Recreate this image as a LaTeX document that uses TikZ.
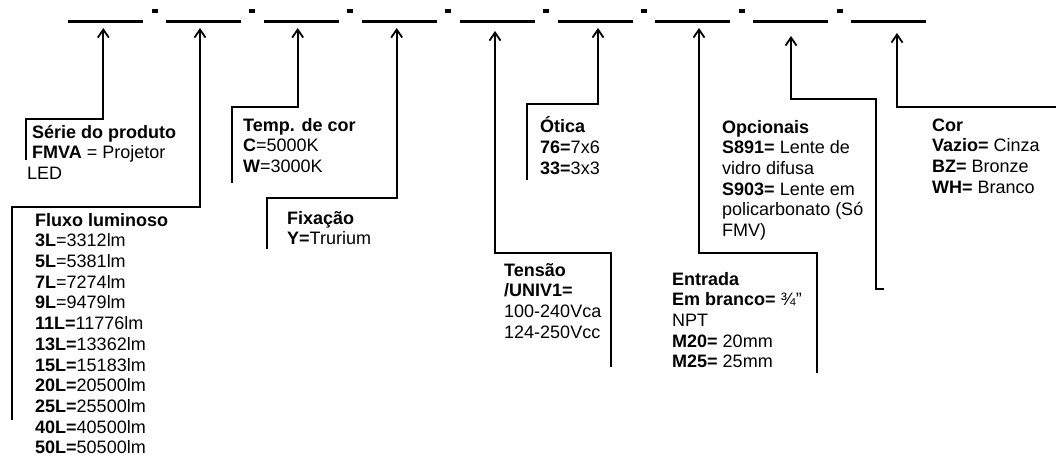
\documentclass[tikz,border=0pt]{standalone}
\usepackage{fontspec}
\setmainfont{Liberation Sans}
\usetikzlibrary{arrows.meta}
\begin{document}
\begin{tikzpicture}[x=1pt,y=-1pt, font=\fontsize{18}{20.7}\selectfont,
	conn/.style={line width=1.8pt,-{Straight Barb[length=8pt,width=11pt]}},
	lbl/.style={anchor=north west,inner sep=0pt,align=left,yshift=14.5pt}]
	\path[use as bounding box,fill=white] (0,0) rectangle (1056,457);
	\def\gap{97.9}
	\foreach \k in {0,...,8} \draw[line width=2.7pt] (68+\gap*\k,21.5) -- ++(75,0);
	\foreach \k in {0,...,7} \draw[line width=4.5pt] (151.5+\gap*\k,11) -- ++(6,0);
	\node[lbl] (serie) at (32,138) {\strut\textbf{Série do produto}\\\textbf{FMVA} = Projetor\\\hspace*{-5pt}LED};
	\node[lbl] (fluxo) at (35,226) {\strut\textbf{Fluxo luminoso}\\\textbf{3L}=3312lm\\\textbf{5L}=5381lm\\\textbf{7L}=7274lm\\\textbf{9L}=9479lm\\
		\textbf{11L=}11776lm\\\textbf{13L=}13362lm\\\textbf{15L=}15183lm\\\textbf{20L=}20500lm\\\textbf{25L=}25500lm\\\textbf{40L=}40500lm\\\textbf{50L=}50500lm};
	\node[lbl] (temp) at (243,131) {\strut\textbf{Temp. de cor}\\\textbf{C}=5000K\\\textbf{W}=3000K};
	\node[lbl] (fixacao) at (287,224) {\strut\textbf{Fixação}\\\textbf{Y=}Trurium};
	\node[lbl] (tensao) at (504,276) {\strut\textbf{Tensão}\\\textbf{/UNIV1=}\\100-240Vca\\124-250Vcc};
	\node[lbl] (otica) at (540,131) {\strut\textbf{Ótica}\\\textbf{76=}7x6\\\textbf{33=}3x3};
	\node[lbl] (entrada) at (672,285) {\strut\textbf{Entrada}\\\textbf{Em branco=} ¾”\\NPT\\\textbf{M20=} 20mm\\\textbf{M25=} 25mm};
	\node[lbl] (opcionais) at (722,133) {\strut\textbf{Opcionais}\\\textbf{S891=} Lente de\\vidro difusa\\\textbf{S903=} Lente em\\policarbonato (Só\\FMV)};
	\node[lbl] (cor) at (932,131) {\strut\textbf{Cor}\\\textbf{Vazio=} Cinza\\\textbf{BZ=} Bronze\\\textbf{WH=} Branco};
	\foreach \i/\sx/\sy/\ky/\ax/\ay in {1/25.7/160/119/103.3/28, 2/12.3/420/207/200/28, 3/232/183/107/297.7/28,
		4/267/249/198/396.7/28, 5/611/367/253/495/31, 6/527/180/104/598/28, 7/817/373/253/699/28}{
		\coordinate (s\i) at (\sx,\sy);
		\coordinate (b\i) at (\ax,\ay);
		\draw[conn] (s\i) |- (b\i |- 0,\ky) -- (b\i);
	}
	\coordinate (s8) at (884,289); \coordinate (b8) at (791,36);
	\draw[conn] (s8) -- (876,289) |- (b8 |- 0,99) -- (b8);
	\coordinate (s9) at (1056,107); \coordinate (b9) at (897,33);
	\draw[conn] (s9) -| (b9);
\end{tikzpicture}
\end{document}
